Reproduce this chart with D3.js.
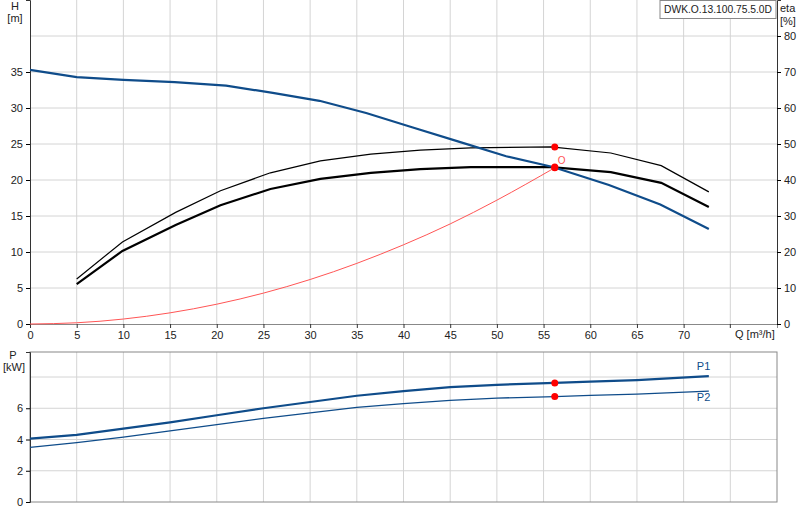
<!DOCTYPE html><html><head><meta charset="utf-8"><script src="https://cdn.jsdelivr.net/npm/d3@7"></script>
<style>body{margin:0;background:#fff}text{font-family:Arial,"Liberation Sans",sans-serif;font-size:11px;fill:#222}</style></head><body>
<svg id="c" width="800" height="520"></svg>
<script>
const qTicks=[0,5,10,15,20,25,30,35,40,45,50,55,60,65,70];
const hTicks=[0,5,10,15,20,25,30,35];
const etaTicks=[0,10,20,30,40,50,60,70,80];
const pTicks=[0,2,4,6];
const headQ=[0,5,10,15.5,21,26,31,36,41,46,51,56,62,67.5,72.7];
const headH=[35.3,34.3,33.9,33.6,33.1,32.1,31.0,29.3,27.3,25.3,23.3,21.8,19.3,16.6,13.2];
const etaQ=[5,9.9,15.6,20.4,25.75,31.1,36.5,41.8,47.2,55.8,62.2,67.6,72.7];
const etaThin=[12.5,22.8,31,37,42,45.3,47.2,48.3,48.9,49.2,47.5,44,36.7];
const etaThick=[11.1,20.3,27.5,33,37.5,40.3,42,43,43.6,43.6,42.2,39.2,32.5];
const sysQ=[0,5,10,15,20,25,30,35,40,45,50,56.2];
const sysH=[0,0.17,0.69,1.55,2.75,4.29,6.18,8.42,11.0,13.9,17.2,21.7];
const pQ=[0,5,10,15,20,25,30,35,40,45,50,56.2,60,65,72.7];
const p1=[4.05,4.3,4.7,5.1,5.55,6.0,6.4,6.8,7.1,7.35,7.5,7.62,7.7,7.8,8.05];
const p2=[3.5,3.8,4.15,4.55,4.95,5.35,5.7,6.05,6.3,6.5,6.65,6.75,6.82,6.9,7.1];
const dutyQ=56.2, dutyH=21.7, dutyEta=[49.2,43.6], dutyP=[7.62,6.75];

const svg=d3.select("#c");
const x=d3.scaleLinear().domain([0,80]).range([30,777]);
const y=d3.scaleLinear().domain([0,45]).range([324,0]);
const ye=d3.scaleLinear().domain([0,90]).range([324,0]);
const yp=d3.scaleLinear().domain([0,9.6]).range([502,352]);
const grid="#d4d4d4";
const gt=svg.append("g");
d3.range(5,80,5).forEach(q=>gt.append("line").attr("x1",x(q)).attr("x2",x(q)).attr("y1",0).attr("y2",324).attr("stroke",grid));
d3.range(5,45,5).forEach(h=>gt.append("line").attr("x1",30).attr("x2",777).attr("y1",y(h)).attr("y2",y(h)).attr("stroke",grid));
d3.range(5,80,5).forEach(q=>gt.append("line").attr("x1",x(q)).attr("x2",x(q)).attr("y1",352).attr("y2",502).attr("stroke",grid));
[2,4,6,8].forEach(p=>gt.append("line").attr("x1",30).attr("x2",777).attr("y1",yp(p)).attr("y2",yp(p)).attr("stroke",grid));
svg.append("rect").attr("x",30).attr("y",352).attr("width",747).attr("height",150).attr("fill","none").attr("stroke","#888");
const ax=svg.append("g").attr("transform","translate(0,324)").call(d3.axisBottom(x).tickValues(qTicks).tickSize(4).tickFormat(d3.format("d")));
ax.select(".domain").attr("stroke","#888");
ax.selectAll("line").attr("stroke","#333");
svg.append("line").attr("x1",x(75)).attr("x2",x(75)).attr("y1",324).attr("y2",328).attr("stroke","#333");
const ay=svg.append("g").attr("transform","translate(30,0)").call(d3.axisLeft(y).tickValues(hTicks).tickSize(4));
ay.select(".domain").attr("stroke","#333");
const ar=svg.append("g").attr("transform","translate(777,0)").call(d3.axisRight(ye).tickValues(etaTicks).tickSize(4));
ar.select(".domain").attr("stroke","#333");
const ap=svg.append("g").attr("transform","translate(30,0)").call(d3.axisLeft(yp).tickValues(pTicks).tickSize(4));
ap.select(".domain").attr("stroke","#333");
svg.selectAll(".tick text").style("font-family","Arial,'Liberation Sans',sans-serif").style("font-size","11px").attr("fill","#222");
svg.append("text").attr("x",15).attr("y",10).attr("text-anchor","middle").text("H");
svg.append("text").attr("x",15).attr("y",22).attr("text-anchor","middle").text("[m]");
svg.append("text").attr("x",780).attr("y",12).text("eta");
svg.append("text").attr("x",780).attr("y",25).text("[%]");
svg.append("text").attr("x",735).attr("y",338).text("Q [m³/h]");
svg.append("text").attr("x",13).attr("y",359).attr("text-anchor","middle").text("P");
svg.append("text").attr("x",14).attr("y",371).attr("text-anchor","middle").text("[kW]");
svg.append("rect").attr("x",660).attr("y",0.5).attr("width",116).attr("height",18).attr("fill","#fff").attr("stroke","#888");
svg.append("text").attr("x",718).attr("y",13).attr("text-anchor","middle").attr("textLength",108).attr("lengthAdjust","spacingAndGlyphs").style("font-size","10.5px").text("DWK.O.13.100.75.5.0D");
const ln=(xs,ys,sy)=>d3.line().x((d,i)=>x(xs[i])).y(d=>sy(d))(ys);
svg.append("path").attr("d",d3.line().curve(d3.curveMonotoneX).x((d,i)=>x(sysQ[i])).y(d=>y(d))(sysH)).attr("fill","none").attr("stroke","#f55").attr("stroke-width",1);
svg.append("path").attr("d",ln(etaQ,etaThin,ye)).attr("fill","none").attr("stroke","#000").attr("stroke-width",1.2);
svg.append("path").attr("d",ln(etaQ,etaThick,ye)).attr("fill","none").attr("stroke","#000").attr("stroke-width",2.2);
svg.append("path").attr("d",ln(headQ,headH,y)).attr("fill","none").attr("stroke","#0f4c8a").attr("stroke-width",2.2);
svg.append("path").attr("d",ln(pQ,p1,yp)).attr("fill","none").attr("stroke","#0f4c8a").attr("stroke-width",2.2);
svg.append("path").attr("d",ln(pQ,p2,yp)).attr("fill","none").attr("stroke","#0f4c8a").attr("stroke-width",1.3);
svg.append("text").attr("x",x(72.7)-12).attr("y",yp(8.05)-6).style("fill","#0f4c8a").text("P1");
svg.append("text").attr("x",x(72.7)-12).attr("y",yp(7.1)+10).style("fill","#0f4c8a").text("P2");
const dot=(cx,cy)=>svg.append("circle").attr("cx",cx).attr("cy",cy).attr("r",3.5).attr("fill","#f00");
dot(x(dutyQ),y(dutyH));dot(x(dutyQ),ye(dutyEta[0]));dot(x(dutyQ),ye(dutyEta[1]));
dot(x(dutyQ),yp(dutyP[0]));dot(x(dutyQ),yp(dutyP[1]));
svg.append("text").attr("x",x(dutyQ)+3).attr("y",y(dutyH)-4).style("fill","#f55").style("font-size","10px").text("O");
</script></body></html>
